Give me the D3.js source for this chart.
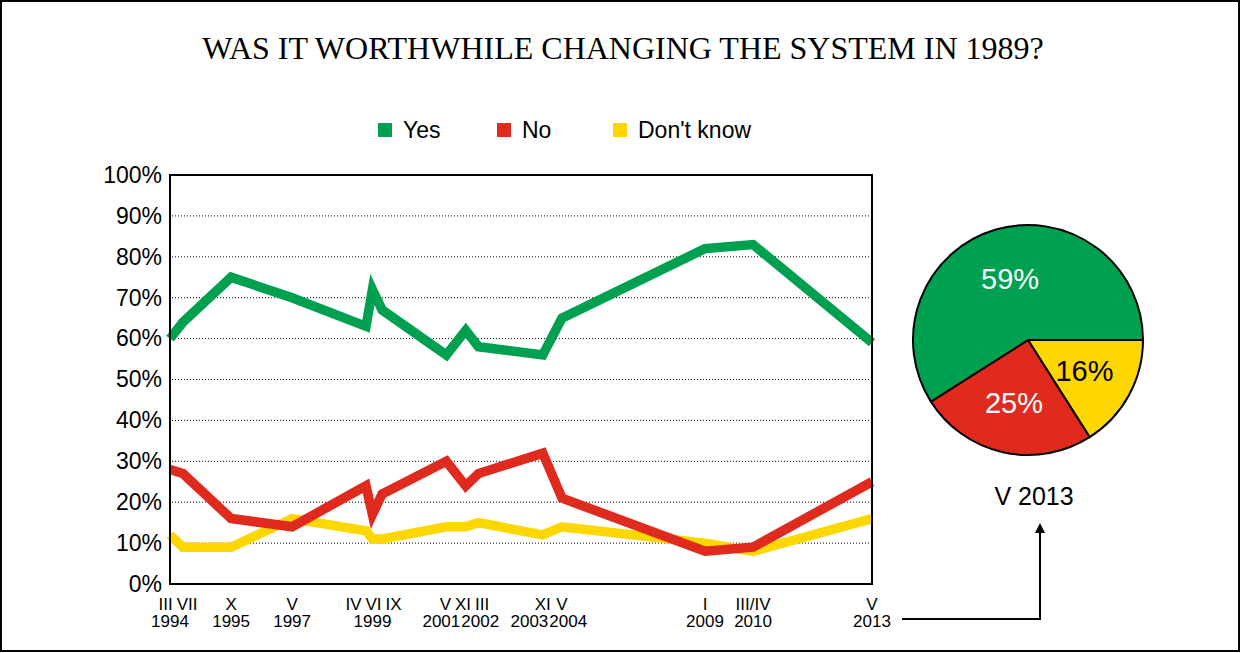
<!DOCTYPE html>
<html>
<head>
<meta charset="utf-8">
<script src="https://cdn.jsdelivr.net/npm/d3@7"></script>
<style>
  body { margin: 0; background: #fff; }
  svg { display: block; }
  text { font-family: "Liberation Sans", Arial, sans-serif; }
</style>
</head>
<body>
<svg id="chart" width="1241" height="653"></svg>
<script>
// survey dates (month of survey)
const surveyDates = ["1994-03", "1994-07", "1995-10", "1997-05", "1999-04", "1999-06", "1999-09",
  "2001-05", "2001-11", "2002-03", "2003-11", "2004-05", "2009-01", "2010-04", "2013-05"];
const monthLabels = ["III", "VII", "X", "V", "IV", "VI", "IX", "V", "XI", "III", "XI", "V", "I", "III/IV", "V"];
const yearLabels = ["1994", "1995", "1997", "1999", "2001", "2002", "2003", "2004", "2009", "2010", "2013"];
const yearLabelDates = ["1994-03", "1995-10", "1997-05", "1999-06", "2001-04", "2002-03", "2003-08", "2004-06", "2009-01", "2010-04", "2013-05"];

const yesValues = [60, 64, 75, 70, 63, 72, 67, 56, 62, 58, 56, 65, 82, 83, 59];
const noValues = [28, 27, 16, 14, 24, 17, 22, 30, 24, 27, 32, 21, 8, 9, 25];
const dkValues = [12, 9, 9, 16, 13, 11, 11, 14, 14, 15, 12, 14, 10, 8, 16];

const seriesNames = ["Yes", "No", "Don't know"];
const seriesColours = ["#00a051", "#df2a1d", "#ffd700"];

const pieLabel = "V 2013";
const pieValues = [59, 25, 16]; // Yes, No, Don't know

const svg = d3.select("#chart");
const parseMonth = d3.timeParse("%Y-%m");

// outer frame
svg.append("rect")
  .attr("x", 1).attr("y", 1).attr("width", 1238).attr("height", 650)
  .attr("fill", "none").attr("stroke", "#000").attr("stroke-width", 2);

// title
svg.append("text")
  .attr("x", 623).attr("y", 59)
  .attr("text-anchor", "middle")
  .style("font-family", "'Liberation Serif', 'Times New Roman', serif")
  .style("font-size", "32px")
  .text("WAS IT WORTHWHILE CHANGING THE SYSTEM IN 1989?");

// legend
const legendX = [378, 497, 613];
const legend = svg.selectAll(".legend").data(seriesNames).enter()
  .append("g").attr("class", "legend")
  .attr("transform", (d, i) => `translate(${legendX[i]},123)`);
legend.append("rect").attr("width", 14).attr("height", 14)
  .attr("fill", (d, i) => seriesColours[i]);
legend.append("text").attr("x", 25).attr("y", 15)
  .style("font-size", "23px").text(d => d);

// plot area
const plotLeft = 170, plotRight = 872, plotTop = 175, plotBottom = 584;
const dates = surveyDates.map(parseMonth);

const x = d3.scaleTime()
  .domain([parseMonth("1994-03"), parseMonth("2004-05"), parseMonth("2009-01"), parseMonth("2013-05")])
  .range([plotLeft, 562, 705, plotRight]);
const y = d3.scaleLinear().domain([0, 100]).range([plotBottom, plotTop]);

// gridlines
svg.append("g").selectAll("line")
  .data(d3.range(10, 100, 10)).enter().append("line")
  .attr("x1", plotLeft + 2).attr("x2", plotRight)
  .attr("y1", d => y(d)).attr("y2", d => y(d))
  .attr("stroke", "#000").attr("stroke-width", 1)
  .attr("stroke-dasharray", "1,2");

// y axis
const yAxis = svg.append("g")
  .attr("transform", `translate(${plotLeft},0)`)
  .call(d3.axisLeft(y).tickValues(d3.range(0, 101, 10)).tickSize(0).tickPadding(8)
    .tickFormat(d => d + "%"));
yAxis.select(".domain").remove();
yAxis.selectAll("text").style("font-size", "23px")
  .style("font-family", "'Liberation Sans', Arial, sans-serif").attr("fill", "#000");

// lines
const allSeries = [yesValues, noValues, dkValues];
const line = d3.line().x((d, i) => x(dates[i])).y(d => y(d));
svg.append("g").selectAll("path")
  .data(allSeries.slice().reverse()).enter().append("path")
  .attr("d", d => line(d))
  .attr("fill", "none")
  .attr("stroke", (d, i) => seriesColours[2 - i])
  .attr("stroke-width", 9.5)
  .attr("stroke-linejoin", "miter");

// frame of plot
svg.append("rect")
  .attr("x", plotLeft).attr("y", plotTop).attr("width", plotRight - plotLeft).attr("height", plotBottom - plotTop)
  .attr("fill", "none").attr("stroke", "#000").attr("stroke-width", 2);

// push apart labels on one row so they don't collide
function spreadLabels(sel, gap) {
  const items = sel.nodes().map(n => ({ n, c: +n.getAttribute("x"), w: n.getComputedTextLength() + gap }));
  for (let k = 0; k < 50; k++) {
    for (let i = 1; i < items.length; i++) {
      const a = items[i - 1], b = items[i];
      const overlap = (a.c + a.w / 2) - (b.c - b.w / 2);
      if (overlap > 0) { a.c -= overlap / 2; b.c += overlap / 2; }
    }
  }
  items.forEach(it => it.n.setAttribute("x", it.c));
}

// x labels
const monthText = svg.append("g").selectAll("text")
  .data(monthLabels).enter().append("text")
  .attr("x", (d, i) => x(dates[i])).attr("y", 610)
  .attr("text-anchor", "middle").style("font-size", "17px").text(d => d);
spreadLabels(monthText, 4);
const yearText = svg.append("g").selectAll("text")
  .data(yearLabels).enter().append("text")
  .attr("x", (d, i) => x(parseMonth(yearLabelDates[i]))).attr("y", 627)
  .attr("text-anchor", "middle").style("font-size", "17px").text(d => d);
spreadLabels(yearText, 1);

// pie
const cx = 1028, cy = 340, r = 115;
const pie = d3.pie().sort(null).value(d => d.v)
  .startAngle(Math.PI / 2).endAngle(Math.PI / 2 + 2 * Math.PI);
const pieData = [2, 1, 0].map(i => ({ v: pieValues[i], i }));
const arc = d3.arc().innerRadius(0).outerRadius(r);
const labelArc = d3.arc().innerRadius(0).outerRadius(r * 1.12);
const pieG = svg.append("g").attr("transform", `translate(${cx},${cy})`);
const slices = pieG.selectAll("g").data(pie(pieData)).enter().append("g");
slices.append("path").attr("d", arc)
  .attr("fill", d => seriesColours[d.data.i])
  .attr("stroke", "#000").attr("stroke-width", 2).attr("stroke-linejoin", "round");
slices.append("text")
  .attr("transform", d => `translate(${labelArc.centroid(d)})`)
  .attr("text-anchor", "middle").attr("dy", "0.36em")
  .style("font-size", "29px")
  .attr("fill", d => d.data.i === 2 ? "#000" : "#fff")
  .text(d => d.data.v + "%");

svg.append("text")
  .attr("x", cx + 6).attr("y", 505)
  .attr("text-anchor", "middle").style("font-size", "25px").text(pieLabel);

// arrow from last survey to pie
svg.append("defs").append("marker")
  .attr("id", "arrow").attr("viewBox", "0 0 10 10")
  .attr("refX", 5).attr("refY", 10)
  .attr("markerWidth", 10).attr("markerHeight", 12)
  .attr("markerUnits", "userSpaceOnUse")
  .attr("orient", "0")
  .append("path").attr("d", "M0,10 L5,0 L10,10 Z").attr("fill", "#000");
const ax = cx + 12;
svg.append("path")
  .attr("d", `M${x(dates[dates.length - 1]) + 30},619 H${ax} V533`)
  .attr("fill", "none").attr("stroke", "#000").attr("stroke-width", 2)
  .attr("marker-end", "url(#arrow)");
</script>
</body>
</html>
